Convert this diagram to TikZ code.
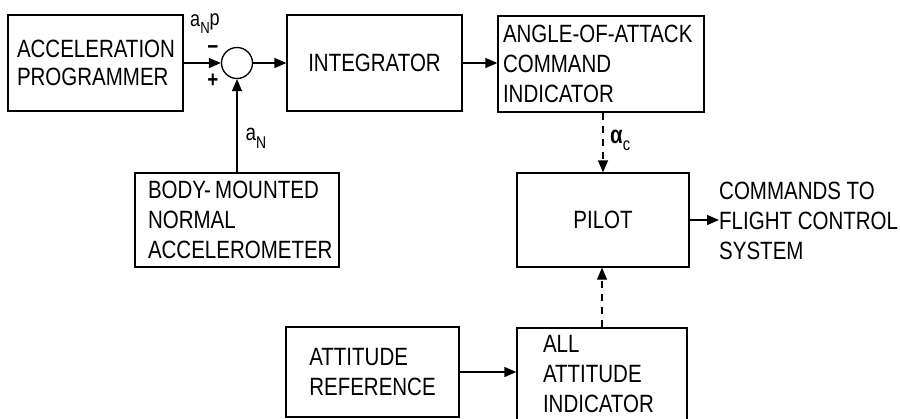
\documentclass[tikz,border=0pt]{standalone}
\usepackage{fontspec}
\setmainfont{Liberation Sans}[FakeStretch=0.82]
\usetikzlibrary{arrows.meta}
\begin{document}
\begin{tikzpicture}[x=1pt,y=-1pt,
  every node/.style={font=\fontsize{25}{30}\selectfont},
  box/.style={draw, line width=1.3pt, rectangle, inner ysep=0pt},
  lbox/.style={box, align=left},
  cbox/.style={box, align=center},
  flow/.style={line width=1.3pt, -{Triangle[length=12pt,width=10pt]}},
  dflow/.style={flow, dash pattern=on 7pt off 6pt},
  lab/.style={inner sep=0pt}
]
\useasboundingbox (0,0) rectangle (900,418);
\fill[white] (0,0) rectangle (900,418);

\node[lbox, minimum height=96, inner xsep=9, text width=157] (prog) at (95.5,63) {ACCELERATION\\[-2pt]PROGRAMMER};
\node[circle, draw, line width=1.3pt, minimum size=31, inner sep=0] (sum) at (237,63) {};
\node[cbox, minimum width=175, minimum height=96] (integ) at (374.5,63) {INTEGRATOR};
\node[lbox, minimum height=96, inner xsep=5, text width=196] (aoa) at (601,64) {ANGLE-OF-ATTACK\\COMMAND\\INDICATOR};
\node[lbox, minimum height=94, inner xsep=13, text width=178] (body) at (237,220) {BODY-\,MOUNTED\\NORMAL\\ACCELEROMETER};
\node[cbox, minimum width=172, minimum height=94] (pilot) at (603,220) {PILOT};
\node[lab, anchor=west, align=left] (cmd) at (719,221) {COMMANDS TO\\FLIGHT CONTROL\\SYSTEM};
\node[box, align=left, minimum width=173, minimum height=90] (attref) at (372.5,372) {ATTITUDE\\REFERENCE};
\node[lbox, minimum height=92, inner xsep=26, text width=118] (aai) at (602,374) {ALL\\ATTITUDE\\INDICATOR};

\node[lab] (anp) at (205,24) {\fontsize{22}{22}\selectfont a\raisebox{-7pt}{\fontsize{16}{16}\selectfont N}\raisebox{1pt}{p}};
\node[lab] (minus) at (213,50) {\fontsize{23}{23}\selectfont\textbf{−}};
\node[lab] (plus) at (213,81) {\fontsize{23}{23}\selectfont\textbf{+}};
\node[lab] (an) at (256,138) {\fontsize{23}{23}\selectfont a\raisebox{-8pt}{\fontsize{17}{17}\selectfont N}};
\node[lab, anchor=west] (alpha) at (610,140) {\fontsize{25}{25}\selectfont\textbf{α}\raisebox{-7pt}{\fontsize{18}{18}\selectfont c}};

\draw[flow] (prog.east |- sum) -- (sum.west);
\draw[flow] (sum.east) -- (integ.west);
\draw[flow] (integ.east) -- (aoa.west |- integ.east);
\draw[flow] (body.north) -- (sum.south);
\draw[dflow] (aoa.south -| pilot.north) -- (pilot.north);
\draw[flow] (pilot.east) -- (cmd.west |- pilot.east);
\draw[flow] (attref.east) -- (aai.west |- attref.east);
\draw[dflow] (aai.north) -- (aai.north |- pilot.south);
\end{tikzpicture}
\end{document}
